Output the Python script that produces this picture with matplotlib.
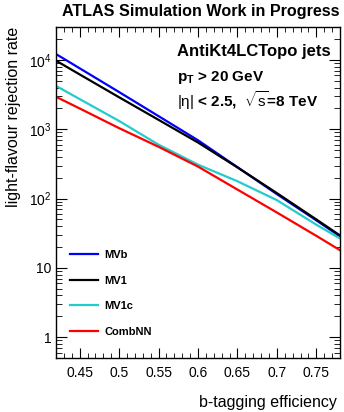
import numpy as np
import matplotlib
matplotlib.use("Agg")
import matplotlib.pyplot as plt
from matplotlib.ticker import FixedLocator, FuncFormatter, LogLocator, NullFormatter, MultipleLocator

plt.rcParams["font.family"] = ["Liberation Sans", "DejaVu Sans"]
plt.rcParams["mathtext.fontset"] = "custom"
plt.rcParams["mathtext.rm"] = "Liberation Sans"
plt.rcParams["mathtext.it"] = "Liberation Sans"
plt.rcParams["mathtext.bf"] = "Liberation Sans:bold"

# b-tagging efficiency points and light-flavour rejection per tagger
eff = [0.42, 0.45, 0.50, 0.55, 0.60, 0.65, 0.70, 0.75, 0.78]
rej_mvb = [12200, 7600, 3450, 1550, 695, 284, 116, 48.5, 28.5]
rej_mv1 = [9800, 6200, 2900, 1370, 645, 282, 120, 50, 29.4]
rej_mv1c = [4230, 2730, 1320, 600, 309, 178, 95, 42, 26.6]
rej_combnn = [2950, 2000, 1040, 560, 290, 135, 63, 29, 18]

taggers = ["MVb", "MV1", "MV1c", "CombNN"]
colors = ["#0000ff", "#000000", "#22cccc", "#ff0000"]

fig = plt.figure(figsize=(3.44, 4.12), dpi=100)
ax = fig.add_axes([0.1628, 0.131, 0.8256, 0.8035])

for rej, name, c in zip([rej_mvb, rej_mv1, rej_mv1c, rej_combnn], taggers, colors):
    ax.plot(eff, rej, color=c, lw=1.6, label=name)

ax.set_yscale("log")
ax.set_xlim(0.42, 0.78)
ax.set_ylim(0.5, 3e4)

ax.xaxis.set_major_locator(MultipleLocator(0.05))
ax.xaxis.set_minor_locator(MultipleLocator(0.01))
ax.xaxis.set_major_formatter(FuncFormatter(lambda v, p: f"{v:.2f}".rstrip("0")))

ax.yaxis.set_major_locator(FixedLocator([1, 10, 100, 1000, 10000]))
ax.yaxis.set_minor_locator(LogLocator(base=10, subs=np.arange(2, 10), numticks=20))
ax.yaxis.set_minor_formatter(NullFormatter())


def ylab(v, p):
    if v < 5:
        return "1"
    if v < 50:
        return "10"
    return r"$\mathdefault{10^{%d}}$" % int(round(np.log10(v)))


ax.yaxis.set_major_formatter(FuncFormatter(ylab))

ax.tick_params(which="both", direction="in", top=True, right=True, labelsize=10)
ax.tick_params(axis="x", which="major", length=7, pad=6)
ax.tick_params(axis="x", which="minor", length=3.5)
ax.tick_params(axis="y", which="major", length=8, pad=3)
ax.tick_params(axis="y", which="minor", length=4)
for s in ax.spines.values():
    s.set_linewidth(1.0)

ax.legend(loc="lower left", bbox_to_anchor=(0.021, 0.04), frameon=False,
          prop={"weight": "bold", "size": 8}, handlelength=2.5,
          handletextpad=0.6, labelspacing=1.41, borderaxespad=0.3)

ax.text(0.426, 0.9245, "AntiKt4LCTopo jets", transform=ax.transAxes,
        fontsize=12, fontweight="bold", va="center", ha="left")
ax.text(0.426, 0.846, r"$\mathbf{p_T}$ > 20 GeV", transform=ax.transAxes,
        fontsize=11, fontweight="bold", va="center", ha="left")
ax.text(0.426, 0.779, r"$|\eta|$ < 2.5,  $\sqrt{s}$=8 TeV", transform=ax.transAxes,
        fontsize=11, fontweight="bold", va="center", ha="left")

fig.text(0.584, 0.971, "ATLAS Simulation Work in Progress", fontsize=11.6,
         fontweight="bold", ha="center", va="center")
fig.text(0.038, 0.934, "light-flavour rejection rate", rotation=90,
         fontsize=11.5, ha="center", va="top")
fig.text(0.98, 0.022, "b-tagging efficiency", fontsize=11.5,
         ha="right", va="center")

fig.savefig("out.png", dpi=100)
